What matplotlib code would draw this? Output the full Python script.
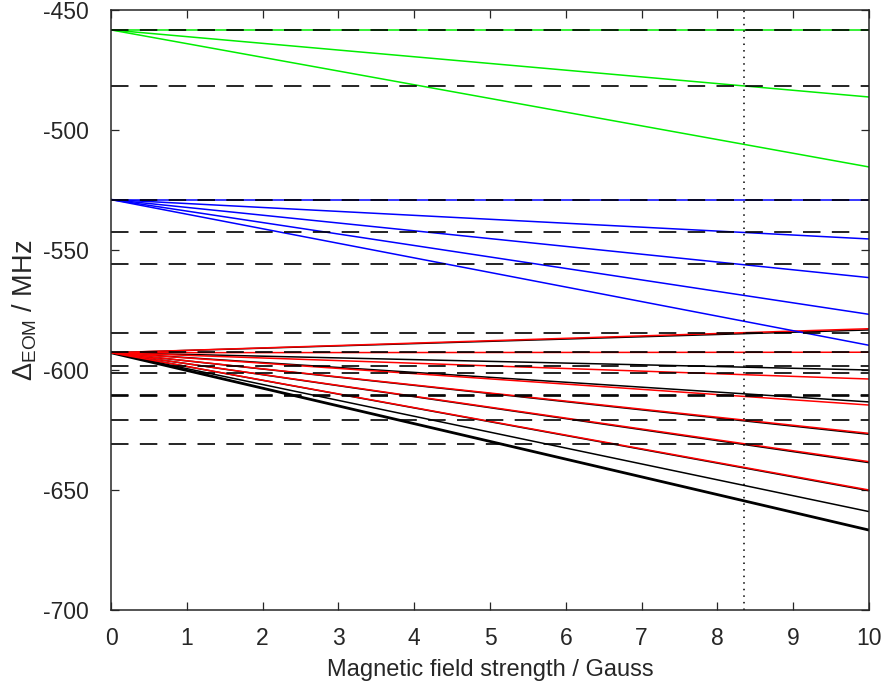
import matplotlib
matplotlib.use("Agg")
import matplotlib.pyplot as plt
from matplotlib.ticker import FuncFormatter

plt.rcParams['font.family'] = ['Liberation Sans', 'DejaVu Sans']
plt.rcParams['axes.unicode_minus'] = False
plt.rcParams['mathtext.fontset'] = 'custom'
plt.rcParams['mathtext.rm'] = 'Liberation Sans'
plt.rcParams['mathtext.it'] = 'Liberation Sans:italic'

B_max = 10.0
B_marker = 8.35

# Zeeman lines: start value at B=0, end value at B=10 (MHz)
green_start = -458.3
green_end = [-458.3, -486.25, -515.4]
blue_start = -529.0
blue_end = [-529.0, -545.4, -561.5, -576.8, -589.7]
rb_start = -592.8
black_end = [-583.3, -600.0, -613.3, -626.8, -638.6, -650.3, -659.0]
black_thick_end = [-666.7]
red_end = [-582.8, -592.6, -603.75, -614.6, -626.4, -638.2, -650.0]

# dashed reference levels (MHz)
dashed_levels = [-458.3, -481.7, -529.0, -542.6, -555.8,
                 -584.5, -592.5, -598.2, -601.4, -610.3, -610.8, -620.8, -630.7]

xticks = list(range(0, 11))
yticks = [-700, -650, -600, -550, -500, -450]

fig = plt.figure(figsize=(8.86, 6.88), dpi=100)
ax = fig.add_axes([111/886, 1-610/688, (869-111)/886, 600/688])

lw = 1.1
for e in black_end:
    ax.plot([0, B_max], [rb_start, e], color='black', lw=lw)
for e in black_thick_end:
    ax.plot([0, B_max], [rb_start, e], color='black', lw=2.0)
for e in red_end:
    ax.plot([0, B_max], [rb_start, e], color='#ff0000', lw=lw)
for e in blue_end:
    ax.plot([0, B_max], [blue_start, e], color='#0000ff', lw=lw)
for e in green_end:
    ax.plot([0, B_max], [green_start, e], color='#00ee00', lw=lw)

for lv in dashed_levels:
    ax.plot([0, B_max], [lv, lv], color='black', lw=1.2, dashes=(10.5, 6.8))

ax.plot([B_marker, B_marker], [-700, -450], color='black', lw=1.1, dashes=(1, 3.3))

ax.set_xlim(0, 10)
ax.set_ylim(-700, -450)
ax.set_xticks(xticks)
ax.set_yticks(yticks)
ax.xaxis.set_major_formatter(FuncFormatter(lambda v, p: f"{v:.0f}"))
ax.yaxis.set_major_formatter(FuncFormatter(lambda v, p: f"{v:.0f}"))
ax.tick_params(direction='in', length=5.5, width=0.9, top=True, right=True,
               labelsize=16.5, colors='#262626')
ax.tick_params(axis='x', pad=12.5)
ax.tick_params(axis='y', pad=16)
for s in ax.spines.values():
    s.set_linewidth(1.1)
    s.set_color('#262626')

ax.set_xlabel('Magnetic field strength / Gauss', fontsize=17, color='#262626', labelpad=6)
ax.set_ylabel(r'$\Delta_{\mathrm{EOM}}$ / MHz', fontsize=19.5, color='#262626', labelpad=2.5)

fig.savefig('out.png', dpi=100)
